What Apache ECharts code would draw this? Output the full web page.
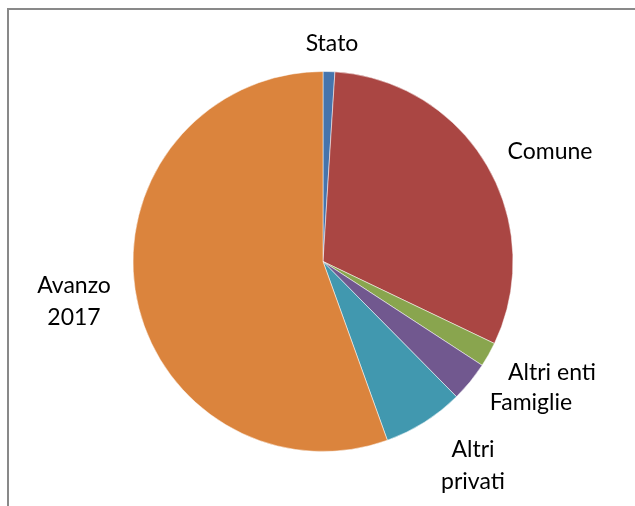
<!DOCTYPE html>
<html>
<head>
<meta charset="utf-8">
<script src="https://cdn.jsdelivr.net/npm/echarts@6/dist/echarts.min.js"></script>
<style>
    html, body { margin: 0; padding: 0; background: #fff; }
    #chart { width: 635px; height: 506px; }
</style>
</head>
<body>
<div id="chart"></div>
<script>
// Chart data
const categories = ['Stato', 'Comune', 'Altri enti', 'Famiglie', 'Altri privati', 'Avanzo 2017'];
const values = [1.0, 31.1, 2.1, 3.4, 6.9, 55.5];
const colors = ['#4674AC', '#AA4643', '#89A54E', '#71588F', '#4198AF', '#DB843D'];

// Where each label sits (centre of text block)
const labelPos = [[332, 44], [550, 152], [552, 373], [531, 403], [473, 466], [74, 302]];
const wrapped = ['Altri privati', 'Avanzo 2017'];

const chart = echarts.init(document.getElementById('chart'));

chart.setOption({
    animation: false,
    graphic: [{
        type: 'rect',
        shape: { x: 8, y: 9, width: 1000, height: 1000 },
        style: { fill: 'none', stroke: '#898989', lineWidth: 2 }
    }],
    series: [{
        type: 'pie',
        center: [323, 261.5],
        radius: 190,
        startAngle: 90,
        clockwise: true,
        avoidLabelOverlap: false,
        itemStyle: { borderColor: '#fff', borderWidth: 0.5 },
        label: {
            show: true,
            position: 'outside',
            color: '#000',
            fontFamily: 'Lato',
            fontSize: 23,
            lineHeight: 32,
            align: 'center',
            formatter: function(p) {
                return wrapped.indexOf(p.name) >= 0 ? p.name.replace(' ', '\n') : p.name;
            }
        },
        labelLine: { show: false },
        labelLayout: function(params) {
            const pos = labelPos[params.dataIndex];
            return { x: pos[0], y: pos[1], align: 'center', verticalAlign: 'middle' };
        },
        emphasis: { disabled: true },
        data: categories.map((name, i) => ({
            name: name,
            value: values[i],
            itemStyle: { color: colors[i] }
        }))
    }]
});
</script>
</body>
</html>
